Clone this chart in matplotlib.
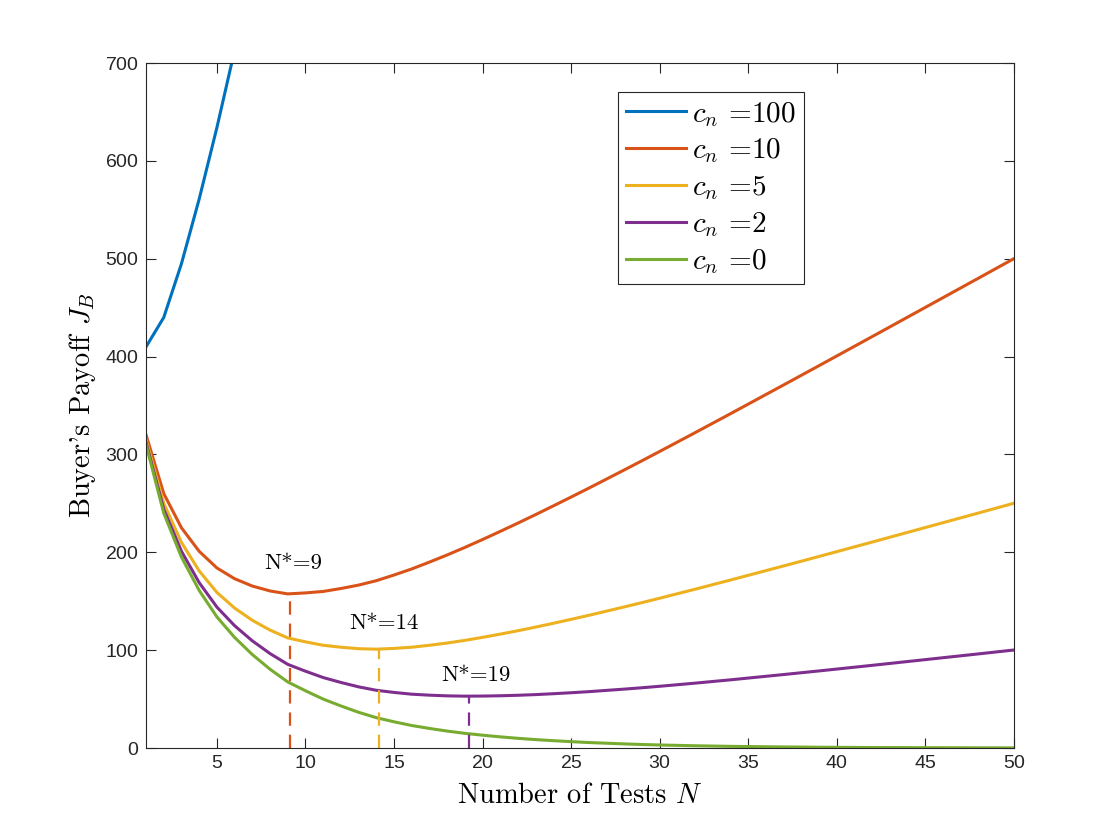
import numpy as np
import matplotlib
matplotlib.use('Agg')
import matplotlib.pyplot as plt

plt.rcParams['mathtext.fontset'] = 'cm'
plt.rcParams['font.family'] = 'serif'
plt.rcParams['font.serif'] = ['cmr10']
plt.rcParams['axes.formatter.use_mathtext'] = True

# number of tests
N = np.arange(1, 51)

# buyer's payoff, one list per c_n
J_100 = [410, 440, 495, 561, 634, 713]
J_10 = [320, 260, 225, 201, 184, 173, 165.5, 160.5, 157.5, 158.5,
        160, 163, 166.5, 171, 176.8, 183, 190, 197.3, 205, 213.1,
        221.4, 229.9, 238.6, 247.5, 256.5, 265.6, 274.9, 284.2, 293.6, 303.1,
        312.7, 322.3, 332, 341.7, 351.5, 361.3, 371.1, 380.95, 390.8, 400.7,
        410.6, 420.5, 430.45, 440.4, 450.35, 460.3, 470.25, 480.2, 490.2, 500.15]
J_5 = [315, 250, 210, 181, 159, 143, 130.5, 120.5, 112.5, 108.5,
       105, 103, 101.5, 101, 101.8, 103, 105, 107.3, 110, 113.1,
       116.4, 119.9, 123.6, 127.5, 131.5, 135.6, 139.9, 144.2, 148.6, 153.1,
       157.7, 162.3, 167, 171.7, 176.5, 181.3, 186.1, 190.95, 195.8, 200.7,
       205.6, 210.5, 215.45, 220.4, 225.35, 230.3, 235.25, 240.2, 245.2, 250.15]
J_2 = [312, 244, 201, 169, 144, 125, 109.5, 96.5, 85.5, 78.5,
       72, 67, 62.5, 59, 56.8, 55, 54, 53.3, 53, 53.1,
       53.4, 53.9, 54.6, 55.5, 56.5, 57.6, 58.9, 60.2, 61.6, 63.1,
       64.7, 66.3, 68, 69.7, 71.5, 73.3, 75.1, 76.95, 78.8, 80.7,
       82.6, 84.5, 86.45, 88.4, 90.35, 92.3, 94.25, 96.2, 98.2, 100.15]
J_0 = [310, 240, 195, 161, 134, 113, 95.5, 80.5, 67.5, 58.5,
       50, 43, 36.5, 31, 26.8, 23, 20, 17.3, 15, 13.1,
       11.4, 9.9, 8.6, 7.5, 6.5, 5.6, 4.9, 4.2, 3.6, 3.1,
       2.7, 2.3, 2.0, 1.7, 1.5, 1.3, 1.1, 0.95, 0.8, 0.7,
       0.6, 0.5, 0.45, 0.4, 0.35, 0.3, 0.25, 0.2, 0.2, 0.15]

labels = ['100', '10', '5', '2', '0']
colors = ['#0072BD', '#D95319', '#EDB120', '#7E2F8E', '#77AC30']

# optimum points (N*, J*) and where their labels sit
opt_N = [9.1, 14.15, 19.25]
opt_J = [158, 101, 53]
opt_text = ['N*=9', 'N*=14', 'N*=19']
text_N = [9.3, 14.45, 19.6]
text_J = [189, 128, 74]
opt_colors = colors[1:4]

fig = plt.figure(figsize=(11.2, 8.4), dpi=100)
ax = fig.add_axes([0.1304, 0.1095, 0.775, 0.8155])

series = [J_100, J_10, J_5, J_2, J_0]
for vals, lab, col in zip(series, labels, colors):
    ax.plot(N[:len(vals)], vals, color=col, lw=2.2, label=r'$c_n$ =' + lab)

for x, y, col in zip(opt_N, opt_J, opt_colors):
    ax.plot([x, x], [0, y], color=col, lw=1.6, ls=(0, (6, 4)))
for x, y, t in zip(text_N, text_J, opt_text):
    ax.text(x, y, t, fontsize=16.5, ha='center', va='center')

ax.set_xlim(1, 50)
ax.set_ylim(0, 700)
ax.set_xticks(np.arange(5, 51, 5))
ax.set_yticks(np.arange(0, 701, 100))
ax.tick_params(direction='in', length=7, width=0.8, top=True, right=True,
               labelsize=14, pad=5, colors='#262626')
for lbl in ax.get_xticklabels() + ax.get_yticklabels():
    lbl.set_fontfamily('Liberation Sans')
for sp in ax.spines.values():
    sp.set_linewidth(0.8)
    sp.set_color('#262626')

ax.set_xlabel(r'Number of Tests $N$', fontsize=20.5, labelpad=8)
ax.set_ylabel(r"Buyer's Payoff $J_B$", fontsize=20.5, labelpad=5)

leg = ax.legend(loc='upper left', bbox_to_anchor=(0.5438, 0.958), fontsize=21,
                fancybox=False, framealpha=1, edgecolor='#262626',
                handlelength=2.05, handletextpad=0.22, labelspacing=0.27,
                borderpad=0.27, borderaxespad=0)
leg.get_frame().set_linewidth(0.8)

plt.savefig('out.png')
